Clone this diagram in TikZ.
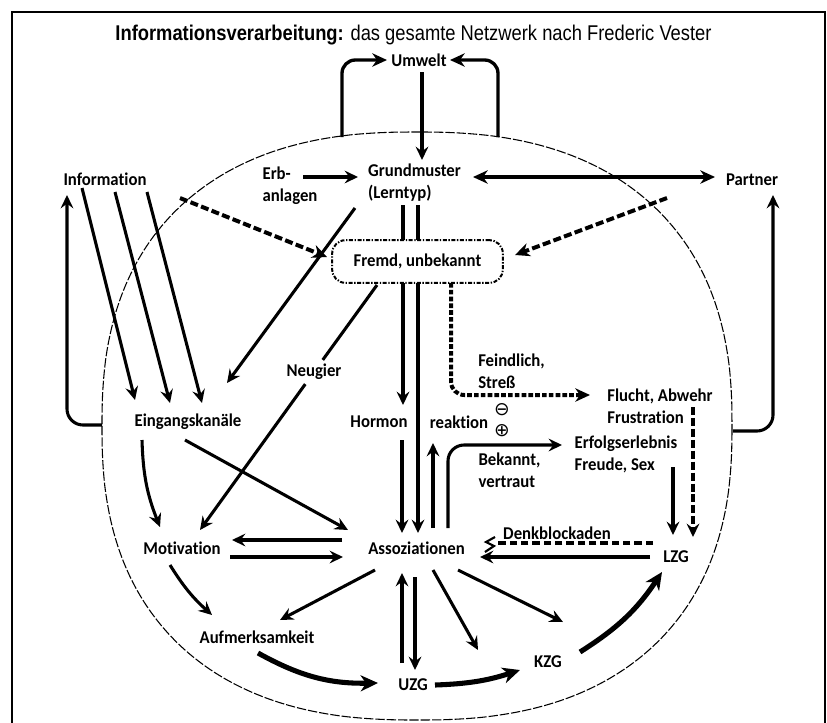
\documentclass[tikz,border=0pt]{standalone}
\usepackage{fontspec}
\newfontfamily\labelfont{Carlito}[FakeStretch=0.93, Ligatures=NoCommon]
\newfontfamily\titlefont{Liberation Sans}[FakeStretch=0.86]
\newfontfamily\signfont{DejaVu Sans}
\usetikzlibrary{arrows.meta,calc}

\tikzset{
  lbl/.style={font=\labelfont\bfseries\fontsize{13.5}{16.5}\selectfont, inner sep=1pt},
  two/.style={lbl, align=left},
  sign/.style={font=\signfont\fontsize{14}{14}\selectfont, inner sep=0pt},
  fremdbox/.style={lbl, draw, fill=white, rounded corners=10pt, line width=1.5pt,
    dash pattern=on 3pt off 1.2pt on 1pt off 1.2pt, minimum width=128pt, minimum height=32pt},
  line/.style={line width=2.3pt},
  arr/.style={line width=2.3pt, -{Stealth[length=10pt,width=9.5pt,inset=3.5pt]}},
  uarr/.style={line width=2.5pt, -{Stealth[length=11pt,width=10pt,inset=3.5pt]}},
  dbl/.style={line width=2.5pt, {Stealth[length=11pt,width=10pt,inset=3.5pt]}-{Stealth[length=11pt,width=10pt,inset=3.5pt]}},
  bigarr/.style={line width=3.8pt, -{Stealth[length=13pt,width=12pt,inset=4pt]}},
  dasharr/.style={line width=3pt, dash pattern=on 6pt off 2.5pt, -{Stealth[length=11pt,width=10pt,inset=3.5pt]}},
  dotarr/.style={line width=3pt, dash pattern=on 3.5pt off 1.6pt, -{Stealth[length=11pt,width=10pt,inset=3.5pt]}},
  vdash/.style={line width=2.3pt, dash pattern=on 6pt off 2.2pt, -{Stealth[length=10pt,width=9.5pt,inset=3.5pt]}},
  blockdash/.style={line width=3pt, dash pattern=on 5.5pt off 3pt},
  outline/.style={line width=0.8pt, dash pattern=on 7pt off 1.5pt}
}

\begin{document}
\begin{tikzpicture}[x=0.75pt,y=-0.75pt]
\useasboundingbox (0,0) rectangle (827,722);

% frame and head outline
\draw[line width=1.5pt] (12,740) -- (12,12) -- (825,12) -- (825,740);
\draw[outline] plot[domain=0.5:360.5, samples=121, smooth cycle]
  ({417+315*sign(cos(\x))*pow(abs(cos(\x)),0.833)}, {426+294*sign(sin(\x))*pow(abs(sin(\x)),0.833)});

\node[font=\titlefont\fontsize{16}{19}\selectfont] (title) at (413.5,35)
  {\textbf{Informationsverarbeitung:} das gesamte Netzwerk nach Frederic Vester};

\node[lbl] (umwelt) at (419,60) {Umwelt};
\node[two] (erb) at (290,186) {Erb-\\anlagen};
\node[two] (grund) at (414.5,183) {Grundmuster\\(Lerntyp)};
\node[lbl] (partner) at (752,180) {Partner};
\node[lbl] (info) at (105,179) {Information};
\node[fremdbox] (fremd) at (417.5,261.5) {Fremd, unbekannt};
\node[lbl] (eing) at (188,422) {Eingangskanäle};
\node[lbl, inner sep=3pt] (neugier) at (314,372) {Neugier};
\node[lbl] (hormon) at (379,422) {Hormon};
\node[lbl] (reaktion) at (459,422) {reaktion};
\node[sign] (minus) at (502,410) {⊖};
\node[sign] (plus) at (502,431) {⊕};
\node[two] (feind) at (511.5,371) {Feindlich,\\Streß};
\node[two] (flucht) at (660,406) {Flucht, Abwehr\\Frustration};
\node[two] (erfolg) at (626,454.5) {Erfolgserlebnis\\Freude, Sex};
\node[two] (bekannt) at (509.5,470.5) {Bekannt,\\vertraut};
\node[lbl] (motiv) at (182,548) {Motivation};
\node[lbl] (assoz) at (416.5,548) {Assoziationen};
\node[lbl] (denk) at (557,533) {Denkblockaden};
\node[lbl] (lzg) at (676,557) {LZG};
\node[lbl] (aufm) at (257,637) {Aufmerksamkeit};
\node[lbl] (uzg) at (413,685) {UZG};
\node[lbl] (kzg) at (548,662) {KZG};

\coordinate (uml) at (342,137);
\coordinate (umr) at (498,137);
\coordinate (brl) at (102,425);
\coordinate (brr) at (733,431);
\coordinate (assa) at (478,650);
\coordinate (assb) at (563,622);

% Umwelt and Grundmuster
\draw[uarr, rounded corners=10pt] (uml) |- ($(umwelt)+(-32,0)$);
\draw[uarr, rounded corners=10pt] (umr) |- ($(umwelt)+(31,0)$);
\draw[arr] ($(umwelt)+(3,12)$) -- ($(grund)+(7.5,-23)$);
\draw[arr] ($(erb)+(13,-9)$) -- ($(grund)+(-56.5,-6)$);
\draw[dbl] ($(grund)+(58.5,-6)$) -- ($(partner)+(-37,-3)$);

% Information, Partner
\draw[arr] ($(info)+(-23,9)$) -- ($(eing)+(-53,-22)$);
\draw[arr] ($(info)+(10,13)$) -- ($(eing)+(-18,-19)$);
\draw[arr] ($(info)+(42,13)$) -- ($(eing)+(14,-19)$);
\draw[arr, rounded corners=12pt] (brl) -| ($(info)+(-38,16)$);
\draw[arr, rounded corners=12pt] (brr) -| ($(partner)+(21,15)$);
\draw[dasharr] ($(info)+(75,19)$) -- ($(fremd)+(-90.5,-4.5)$);
\draw[dasharr] ($(partner)+(-85,18)$) -- ($(fremd)+(97.5,-6.5)$);
\draw[arr] ($(grund)+(-59.5,25)$) -- ($(eing)+(39,-39)$);
\draw[line] ($(fremd)+(-40.5,23.5)$) -- (neugier);
\draw[arr] (neugier) -- ($(motiv)+(18,-18)$);

% Hormonreaktion
\draw[line] ($(grund)+(-11.5,22)$) -- ($(fremd)+(-14.5,-21.5)$);
\draw[line] ($(grund)+(3.5,22)$) -- ($(fremd)+(0.5,-21.5)$);
\draw[arr] ($(fremd)+(-14.5,21.5)$) -- ($(hormon)+(24,-17)$);
\draw[arr] ($(fremd)+(0.5,21.5)$) -- ($(assoz)+(1.5,-15)$);
\draw[arr] ($(hormon)+(23,18)$) -- ($(assoz)+(-14.5,-15)$);
\draw[arr] ($(assoz)+(16.5,-20)$) -- ($(reaktion)+(-26,21)$);
\draw[arr, rounded corners=12pt] ($(assoz)+(31.5,-20)$) |- ($(erfolg)+(-64,-9.5)$);
\draw[dotarr, rounded corners=10pt] ($(fremd)+(33.5,21.5)$) |- ($(flucht)+(-70,-11)$);
\draw[vdash] ($(flucht)+(33,1)$) -- ($(lzg)+(17,-20)$);
\draw[arr] ($(erfolg)+(47,12.5)$) -- ($(lzg)+(-3,-22)$);

% Denkblockaden
\draw[blockdash] ($(lzg)+(-23,-14)$) -- ($(assoz)+(80,-5)$);
\draw[line width=1.6pt] ($(assoz)+(78.5,-11)$) -- ($(assoz)+(69.5,-6)$) -- ($(assoz)+(77.5,-2)$) -- ($(assoz)+(68.5,4)$);
\draw[arr] ($(lzg)+(-26,0)$) -- ($(assoz)+(63.5,9)$);

% Motivation, Aufmerksamkeit
\draw[arr] ($(assoz)+(-74.5,-8)$) -- ($(motiv)+(50,-8)$);
\draw[arr] ($(motiv)+(48,9)$) -- ($(assoz)+(-73.5,9)$);
\draw[arr] ($(eing)+(-46,18)$) to[bend right=10] ($(motiv)+(-22,-21)$);
\draw[arr] ($(eing)+(-3,18)$) -- ($(assoz)+(-68.5,-18)$);
\draw[arr] ($(motiv)+(-12,17)$) to[bend right=8] ($(aufm)+(-45,-22)$);
\draw[arr] ($(assoz)+(-41.5,22)$) -- ($(aufm)+(23,-17)$);

% Gedaechtnis
\draw[bigarr] ($(aufm)+(1,16)$) to[bend right=15] ($(uzg)+(-35,-2)$);
\draw[arr] ($(uzg)+(-11,-22)$) -- ($(assoz)+(-14.5,25)$);
\draw[arr] ($(assoz)+(-1.5,29)$) -- ($(uzg)+(2,-15)$);
\draw[arr] ($(assoz)+(16.5,22)$) -- (assa);
\draw[arr] ($(assoz)+(41.5,22)$) -- (assb);
\draw[bigarr] ($(uzg)+(22,0)$) to[bend right=8] ($(kzg)+(-28,8)$);
\draw[bigarr] ($(kzg)+(32,-10)$) to[bend right=12] ($(lzg)+(-14,15)$);
\end{tikzpicture}
\end{document}
